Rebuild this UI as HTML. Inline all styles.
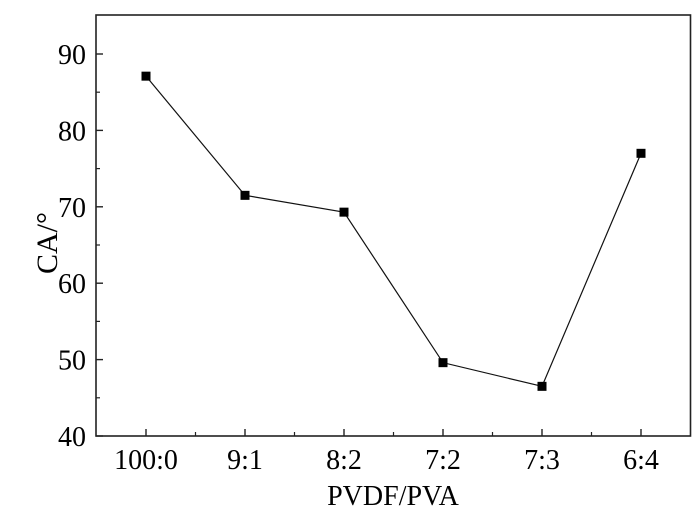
<!DOCTYPE html>
<html><head><meta charset="utf-8"><style>
html,body{margin:0;padding:0;background:#fff;}
svg{display:block;font-family:"Liberation Serif",serif;}
</style></head><body>
<svg id="chart" width="700" height="512" viewBox="0 0 700 512">
<rect x="96" y="15" width="594.5" height="421" fill="none" stroke="#222" stroke-width="1.6"/>
<g id="yticks"></g>
<g id="xticks"></g>
<text x="50" y="243" font-size="30" text-anchor="middle" transform="rotate(-90 50 243)" dominant-baseline="middle">CA/°</text>
<text x="393" y="505" font-size="28" text-anchor="middle">PVDF/PVA</text>
<g id="series"></g>
</svg>
<script>
const categories = ["100:0","9:1","8:2","7:2","7:3","6:4"];
const values = [87.1, 71.5, 69.3, 49.6, 46.5, 77.0];
const yTicks = [40, 50, 60, 70, 80, 90];
const NS = "http://www.w3.org/2000/svg";
const x0 = 146, dx = 99;
function xs(i){ return x0 + i*dx; }
function ys(v){ return 436 - (v-40)*7.64; }
function mk(tag, attrs, parent){ const e=document.createElementNS(NS,tag); for(const k in attrs) e.setAttribute(k,attrs[k]); parent.appendChild(e); return e; }
const yg=document.getElementById('yticks');
yTicks.forEach(v=>{
  const t=mk('line',{x1:96,x2:103,y1:ys(v),y2:ys(v),stroke:'#222','stroke-width':1.4},yg);
  
  
  const l=mk('text',{x:86,y:ys(v)+10,'font-size':28,'text-anchor':'end'},yg);
  l.textContent=v;
  
  
  if(v<90){
    const m=mk('line',{x1:96,x2:100,y1:ys(v+5),y2:ys(v+5),stroke:'#222','stroke-width':1.2},yg);
    
    
  }
});
const xg=document.getElementById('xticks');
categories.forEach((c,i)=>{
  const t=mk('line',{x1:xs(i),x2:xs(i),y1:436,y2:429,stroke:'#222','stroke-width':1.4},xg);
  
  
  const l=mk('text',{x:xs(i),y:469,'font-size':28,'text-anchor':'middle'},xg);
  l.textContent=c;
  
  
  if(i<categories.length-1){
    const m=mk('line',{x1:xs(i)+dx/2,x2:xs(i)+dx/2,y1:436,y2:432,stroke:'#222','stroke-width':1.2},xg);
    
    
  }
});
const sg=document.getElementById('series');
const pl=mk('polyline',{points:values.map((v,i)=>xs(i)+','+ys(v)).join(' '),fill:'none',stroke:'#111','stroke-width':1.2},sg);


values.forEach((v,i)=>{
  const r=mk('rect',{x:xs(i)-4.5,y:ys(v)-4.5,width:9,height:9,fill:'#000'},sg);
  
  
});
</script>
</body></html>
